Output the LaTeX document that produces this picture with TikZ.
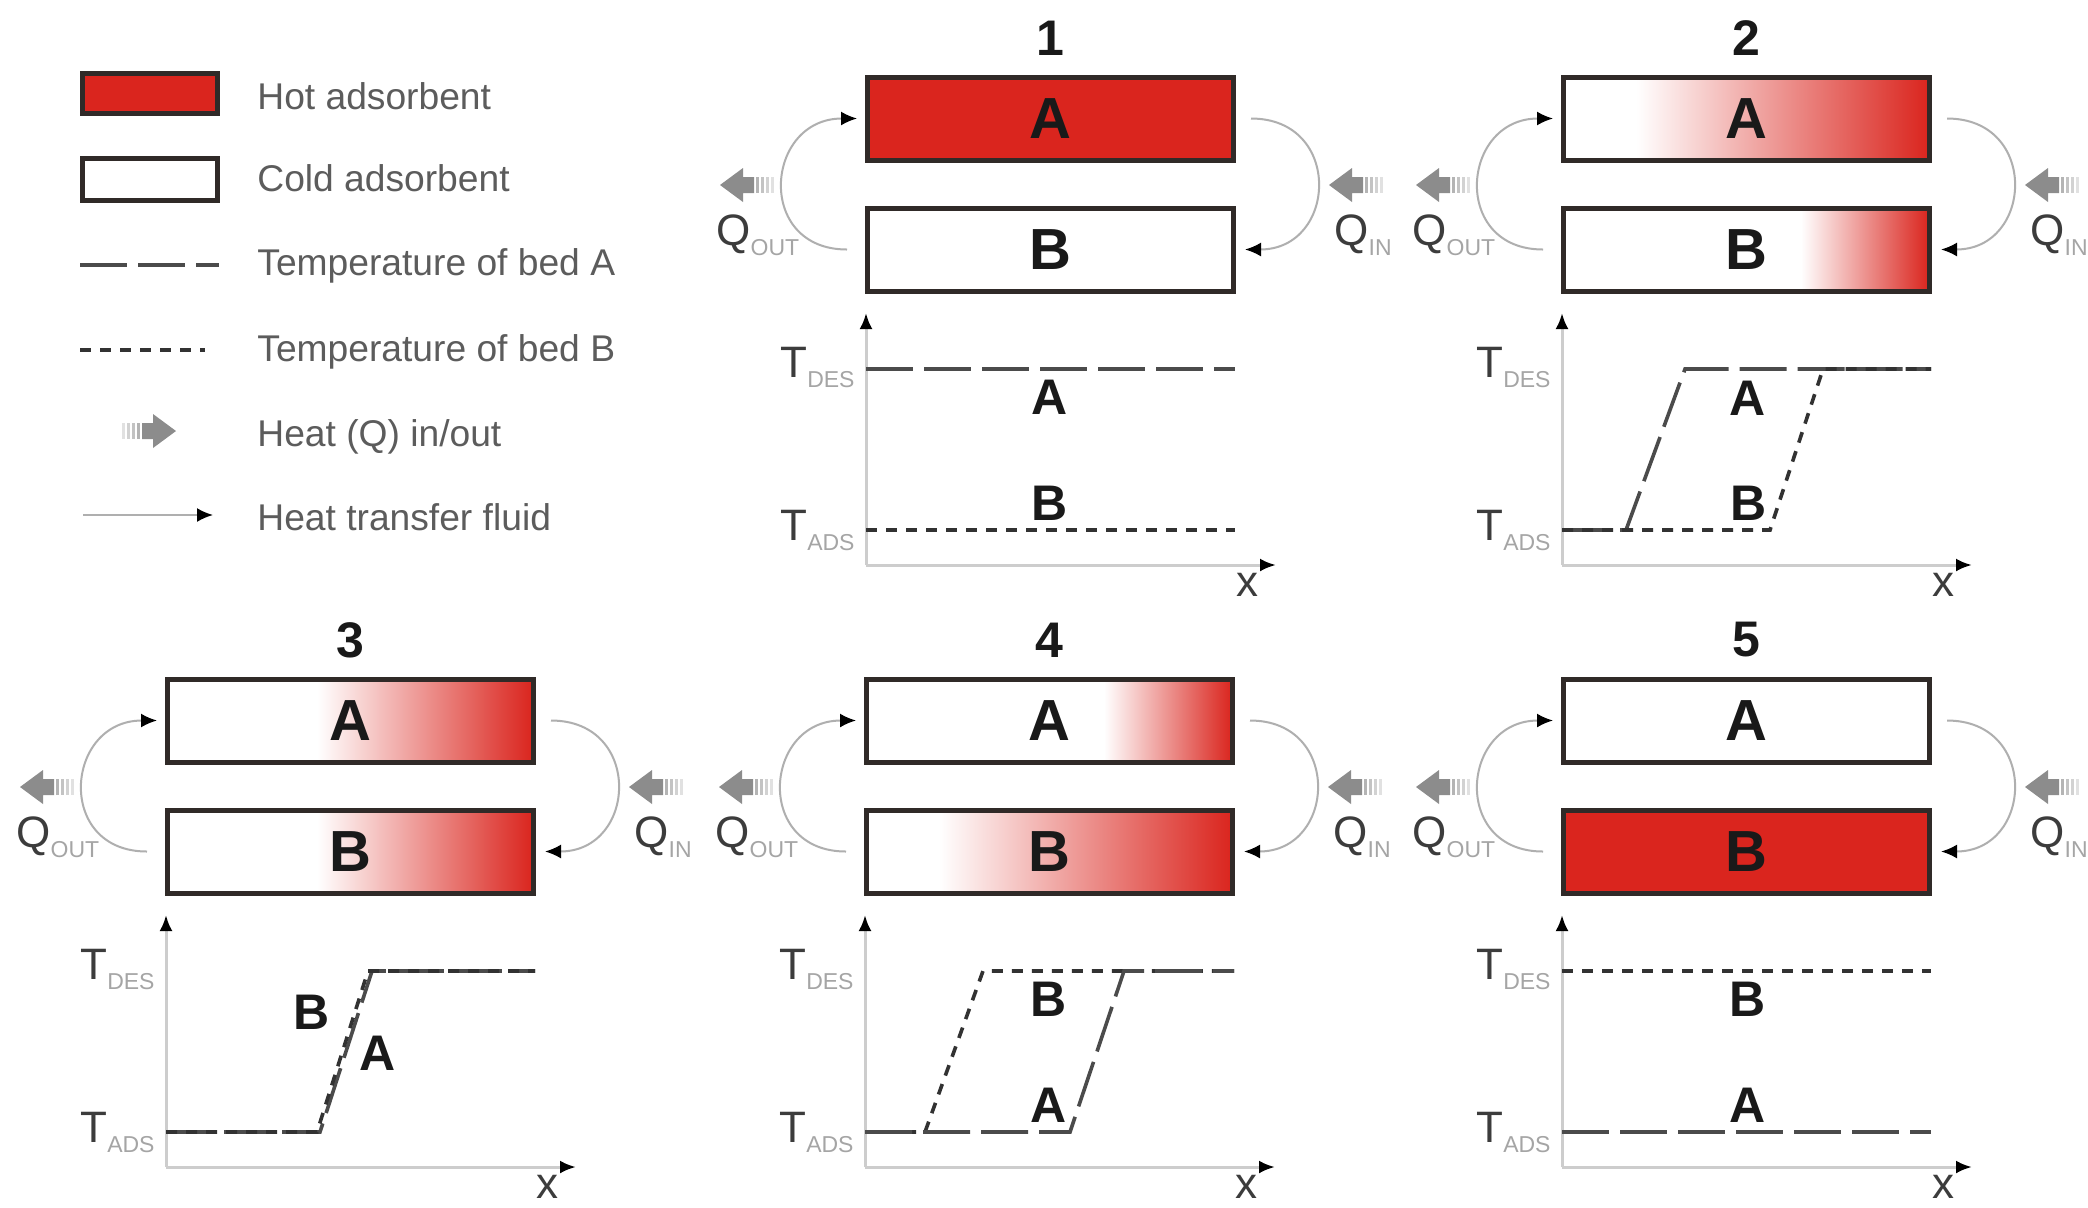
\documentclass[tikz,border=0pt]{standalone}
\usepackage{fontspec}
\setmainfont{Liberation Sans}
\usetikzlibrary{arrows.meta,calc}
\definecolor{hotred}{RGB}{218,37,30}
\definecolor{boxline}{RGB}{48,42,40}
\definecolor{legtext}{RGB}{92,92,92}
\definecolor{qtext}{RGB}{60,60,60}
\definecolor{subgray}{RGB}{165,165,165}
\definecolor{heatgray}{RGB}{140,140,140}
\definecolor{heatlight}{RGB}{180,180,180}
\definecolor{fluidgray}{RGB}{175,175,175}
\definecolor{axisgray}{RGB}{205,205,205}
\definecolor{lineA}{RGB}{75,75,75}
\definecolor{lineB}{RGB}{50,50,50}
\pgfdeclarehorizontalshading{gtwenty}{100bp}{color(0bp)=(white); color(35bp)=(white); color(75bp)=(hotred); color(100bp)=(hotred)}
\pgfdeclarehorizontalshading{gforty}{100bp}{color(0bp)=(white); color(45.5bp)=(white); color(75bp)=(hotred); color(100bp)=(hotred)}
\pgfdeclarehorizontalshading{gsixtyfive}{100bp}{color(0bp)=(white); color(57.5bp)=(white); color(75bp)=(hotred); color(100bp)=(hotred)}
\newcommand{\lowsub}[1]{\raisebox{-5pt}{\fontsize{11.5pt}{12pt}\selectfont\color{subgray}#1}}
\tikzset{
  bedbox/.style={draw=boxline, line width=2.5pt, minimum width=183pt, minimum height=41.5pt,
    inner sep=0pt, outer sep=0pt, font=\fontsize{29pt}{30pt}\selectfont\bfseries, text=black!90},
  hot/.style={fill=hotred},
  cold/.style={fill=white},
  grtwenty/.style={shade, shading=gtwenty},
  grforty/.style={shade, shading=gforty},
  grsixtyfive/.style={shade, shading=gsixtyfive},
  titlefont/.style={font=\fontsize{25pt}{26pt}\selectfont\bfseries, inner sep=0pt, text=black!90},
  glab/.style={font=\fontsize{25pt}{26pt}\selectfont\bfseries, inner sep=0pt, text=black!90},
  qlab/.style={font=\fontsize{22pt}{24pt}\selectfont, text=qtext, inner sep=0pt, anchor=base west},
  xlab/.style={font=\fontsize{22pt}{24pt}\selectfont, text=qtext, inner sep=0pt},
  legtxt/.style={font=\fontsize{18.6pt}{20pt}\selectfont, text=legtext, inner sep=0pt, anchor=base west},
  fluid/.style={draw=fluidgray, line width=1pt, -{Latex[black,length=8pt,width=7pt]}},
  axisline/.style={draw=axisgray, line width=1.5pt, -{Latex[black,length=8pt,width=6.5pt]}},
  tA/.style={line width=1.8pt, draw=lineA, dash pattern=on 23.5pt off 5.5pt},
  tB/.style={line width=1.8pt, draw=lineB, dash pattern=on 5.5pt off 4.5pt},
  heatleft/.pic={
    \fill[heatgray] (0,0) -- (23,-17) -- (23,-8) -- (34,-8) -- (34,8) -- (23,8) -- (23,17) -- cycle;
    \fill[heatlight] (36,-8) rectangle (39,8);
    \fill[heatlight!80] (41,-8) rectangle (44,8);
    \fill[heatlight!60] (46,-8) rectangle (49,8);
    \fill[heatlight!40] (51,-8) rectangle (54,8);
  }
}
\newcommand{\bedpanel}[7]{%
\begin{scope}[shift={(#2,#3)}]
  \node[titlefont] (title#1) at (184,-37) {#4};
  \node[bedbox,#5] (A#1) at (184,43.5) {A};
  \node[bedbox,#6] (B#1) at (184,174.5) {B};
  \draw[fluid] ([xshift=-10pt]B#1.west) to[out=180,in=180,looseness=1.8] ([xshift=-5pt]A#1.west);
  \draw[fluid] ([xshift=9pt]A#1.east) to[out=0,in=0,looseness=1.8] ([xshift=6pt]B#1.east);
  \pic at (-146,110) {heatleft};
  \pic at (463,110) {heatleft};
  \node[qlab] (qo#1) at (-150,170) {Q\lowsub{OUT}};
  \node[qlab] (qi#1) at (468,170) {Q\lowsub{IN}};
  \coordinate (o#1) at (0,490);
  \coordinate (yt#1) at (0,238);
  \coordinate (xt#1) at (410,490);
  \draw[axisline] (o#1) -- (yt#1);
  \draw[axisline] (o#1) -- (xt#1);
  \node[qlab] (td#1) at (-86,302) {T\lowsub{DES}};
  \node[qlab] (ta#1) at (-86,465) {T\lowsub{ADS}};
  \node[xlab] (xl#1) at (381,510) {x};
  #7
\end{scope}}
\begin{document}
\begin{tikzpicture}[x=0.5pt,y=-0.5pt]
\useasboundingbox (0,0) rectangle (2088,1207);
\clip (0,0) rectangle (2088,1207);
\fill[white] (0,0) rectangle (2088,1207);
% legend
\node[bedbox, hot, minimum width=67.5pt, minimum height=20pt] (leghot) at (149.5,93) {};
\node[bedbox, cold, minimum width=67.5pt, minimum height=21pt] (legcold) at (149.5,179) {};
\coordinate (lga1) at (80,265); \coordinate (lga2) at (219,265);
\draw[tA] (lga1) -- (lga2);
\coordinate (lgb1) at (80,350); \coordinate (lgb2) at (205,350);
\draw[tB] (lgb1) -- (lgb2);
\pic[xscale=-1] at (176,431) {heatleft};
\coordinate (lgf1) at (83,515); \coordinate (lgf2) at (213,515);
\draw[fluid] (lgf1) -- (lgf2);
\node[legtxt] (t1) at (257,109) {Hot adsorbent};
\node[legtxt] (t2) at (257,191.5) {Cold adsorbent};
\node[legtxt] (t3) at (257,275) {Temperature of bed A};
\node[legtxt] (t4) at (257,361) {Temperature of bed B};
\node[legtxt] (t5) at (257,446) {Heat (Q) in/out};
\node[legtxt] (t6) at (257,530) {Heat transfer fluid};
% panels
\bedpanel{1}{866}{75}{1}{hot}{cold}{%
  \draw[tA] (0,294) -- (369,294);
  \draw[tB] (0,455) -- (369,455);
  \node[glab] (la1) at (184,322) {A};
  \node[glab] (lb1) at (184,428) {B};}
\bedpanel{2}{1562}{75}{2}{grtwenty}{grsixtyfive}{%
  \draw[tA] (0,455) -- (64,455) -- (123,294) -- (369,294);
  \draw[tB] (0,455) -- (208,455) -- (261,294) -- (369,294);
  \node[glab] (la2) at (186,323) {A};
  \node[glab] (lb2) at (187,428) {B};}
\bedpanel{3}{166}{677}{3}{grforty}{grforty}{%
  \draw[tA] (0,455) -- (154,455) -- (206,294) -- (369,294);
  \draw[tB] (0,455) -- (151,455) -- (202,294) -- (369,294);
  \node[glab] (lb3) at (146,335) {B};
  \node[glab] (la3) at (212,376) {A};}
\bedpanel{4}{865}{677}{4}{grsixtyfive}{grtwenty}{%
  \draw[tB] (0,455) -- (60,455) -- (118,294) -- (369,294);
  \draw[tA] (0,455) -- (205,455) -- (259,294) -- (369,294);
  \node[glab] (lb4) at (184,322) {B};
  \node[glab] (la4) at (184,428) {A};}
\bedpanel{5}{1562}{677}{5}{cold}{hot}{%
  \draw[tB] (0,294) -- (369,294);
  \draw[tA] (0,455) -- (369,455);
  \node[glab] (lb5) at (186,322) {B};
  \node[glab] (la5) at (186,428) {A};}
\end{tikzpicture}
\end{document}
